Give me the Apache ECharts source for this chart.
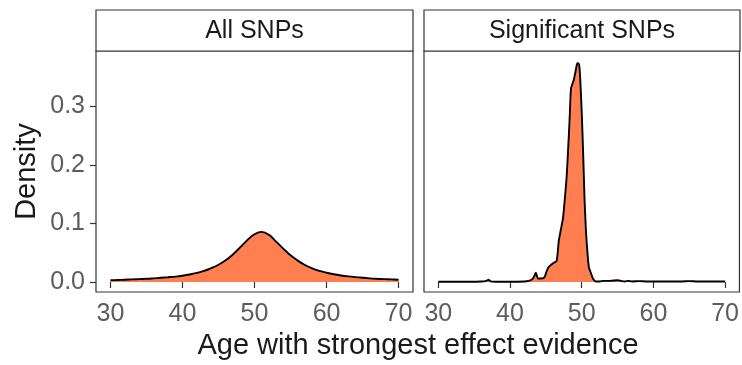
<!DOCTYPE html>
<html>
<head>
<meta charset="utf-8">
<script src="https://cdn.jsdelivr.net/npm/echarts@6/dist/echarts.min.js"></script>
<style>html,body{margin:0;padding:0;background:#fff}#c{width:742px;height:365px}</style>
</head>
<body>
<div id="c"></div>
<script>
// ---- data ----
const panelTitles = ["All SNPs", "Significant SNPs"];
const xTicks = [30, 40, 50, 60, 70];
const yTicks = [0, 0.1, 0.2, 0.3];
const yTickLabels = ["0.0", "0.1", "0.2", "0.3"];

const allAge = [30,31,32,33,34,35,36,37,38,39,40,41,42,43,44,45,46,47,48,49,50,51,52,53,54,55,56,57,58,59,60,61,62,63,64,65,66,67,68,69,70];
const allDensity = [0.003,0.0035,0.004,0.0045,0.005,0.0055,0.0063,0.0072,0.0082,0.0093,0.0108,0.0128,0.0155,0.019,0.0238,0.0295,0.037,0.047,0.059,0.0715,0.0815,0.0855,0.0805,0.069,0.057,0.0455,0.0365,0.029,0.0232,0.019,0.0158,0.0132,0.0112,0.0096,0.0083,0.0072,0.0063,0.0056,0.005,0.0045,0.004];

const sigAge = [30,32,34,36,36.7,37,37.3,38,40,42,42.6,43.0,43.3,43.6,43.9,44.3,44.8,45.1,45.4,45.7,46.0,46.5,46.8,47.1,47.4,47.7,47.9,48.1,48.3,48.5,48.7,48.9,49.15,49.35,49.5,49.65,49.8,50.0,50.2,50.4,50.6,50.8,51.0,51.3,51.6,52.0,52.5,53,54,55,56,56.5,57,58,59,60,62,64,65,66,68,70];
const sigDensity = [0.0005,0.0005,0.0005,0.0008,0.002,0.004,0.001,0.0005,0.0005,0.001,0.002,0.004,0.008,0.016,0.006,0.006,0.008,0.018,0.026,0.029,0.032,0.036,0.07,0.09,0.11,0.15,0.18,0.225,0.275,0.33,0.338,0.345,0.36,0.372,0.373,0.37,0.345,0.29,0.22,0.14,0.085,0.05,0.025,0.015,0.005,0.001,0.001,0.002,0.002,0.003,0.001,0.002,0.001,0.0015,0.001,0.001,0.0008,0.001,0.0015,0.001,0.0008,0.0008];

const xTitle = "Age with strongest effect evidence";
const yTitle = "Density";

// ---- chart ----
const FONT = "Liberation Sans, Arial, Helvetica, sans-serif";
const grids = [
  {left: 96, top: 51, width: 317, height: 241},
  {left: 424, top: 51, width: 316, height: 241}
];
const chart = echarts.init(document.getElementById('c'), null, {renderer: 'canvas'});

function xAxisCfg(i) {
  return {
    type: 'value', gridIndex: i, min: 28, max: 72,
    axisLine: {show: false},
    splitLine: {show: false},
    axisTick: {show: true, length: 6, customValues: xTicks, lineStyle: {color: '#333', width: 1.2}},
    axisLabel: {show: true, customValues: xTicks, margin: 10, color: '#5c5c5c', fontSize: 25, fontFamily: FONT}
  };
}
function yAxisCfg(i) {
  return {
    type: 'value', gridIndex: i, min: -0.017, max: 0.394,
    axisLine: {show: false},
    splitLine: {show: false},
    axisTick: {show: i === 0, length: 6, customValues: yTicks, lineStyle: {color: '#333', width: 1.2}},
    axisLabel: {show: i === 0, customValues: yTicks, margin: 11, color: '#5c5c5c', fontSize: 25, fontFamily: FONT,
      formatter: v => { const k = yTicks.findIndex(t => Math.abs(t - v) < 1e-9); return k >= 0 ? yTickLabels[k] : ''; }}
  };
}
function seriesCfg(i, xs, ys, smooth) {
  return {
    type: 'line', xAxisIndex: i, yAxisIndex: i,
    data: xs.map((x, k) => [x, ys[k]]),
    showSymbol: false, smooth: smooth,
    lineStyle: {color: '#000', width: 1.9},
    areaStyle: {color: '#FF7F50', opacity: 1},
    z: 2
  };
}

const graphics = [];
panelTitles.forEach((t, i) => {
  const g = grids[i];
  graphics.push({type: 'rect', z: 10,
    shape: {x: g.left, y: 10, width: g.width, height: 41},
    style: {fill: '#fff', stroke: '#333', lineWidth: 1.2}});
  graphics.push({type: 'text', z: 11,
    x: g.left + g.width / 2, y: 31,
    style: {text: t, fill: '#1A1A1A', font: '25px ' + FONT, textAlign: 'center', textVerticalAlign: 'middle'}});
});
graphics.push({type: 'text', z: 11, x: 418, y: 346,
  style: {text: xTitle, fill: '#1A1A1A', font: '29px ' + FONT, textAlign: 'center', textVerticalAlign: 'middle'}});
graphics.push({type: 'text', z: 11, x: 27, y: 171.5, rotation: Math.PI / 2,
  style: {text: yTitle, fill: '#1A1A1A', font: '29px ' + FONT, textAlign: 'center', textVerticalAlign: 'middle'}});

chart.setOption({
  animation: false,
  backgroundColor: '#fff',
  grid: grids.map(g => Object.assign({show: true, borderColor: '#333', borderWidth: 1.2, backgroundColor: 'transparent', containLabel: false}, g)),
  xAxis: [xAxisCfg(0), xAxisCfg(1)],
  yAxis: [yAxisCfg(0), yAxisCfg(1)],
  series: [seriesCfg(0, allAge, allDensity, 0.4), seriesCfg(1, sigAge, sigDensity, 0.2)],
  graphic: graphics
});
</script>
</body>
</html>
